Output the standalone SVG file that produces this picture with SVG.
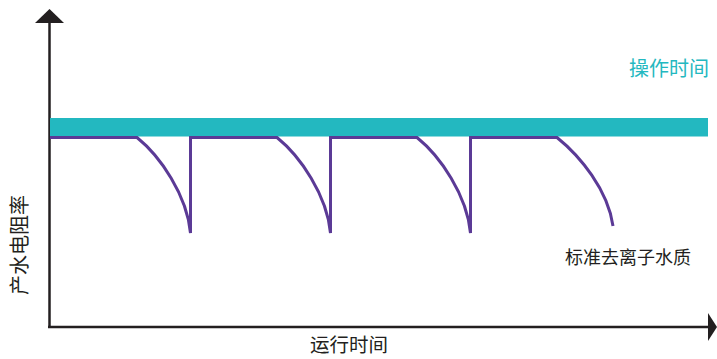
<svg xmlns="http://www.w3.org/2000/svg" width="717" height="359" viewBox="0 0 717 359">
<style>
.ax{stroke:#231f20;stroke-width:2.5;fill:none}
.ah{fill:#231f20}
.cv{stroke:#5b3a96;stroke-width:3;fill:none;stroke-linejoin:miter}
text{font-family:"Noto Sans CJK SC","Noto Sans",sans-serif}
</style>
<rect width="717" height="359" fill="#fff"/>
<g id="axes">
<line class="ax" x1="49.5" y1="20" x2="49.5" y2="327"/>
<polygon class="ah" points="35,23 49.5,9 64,23"/>
<line class="ax" x1="48" y1="327" x2="710" y2="327"/>
<polygon class="ah" points="708,313 717,327 708,341"/>
</g>
<g id="band">
<rect x="50" y="118" width="658" height="18.5" fill="#23b8c0"/>
</g>
<g id="connectors">
<path class="cv" d="M50,137.5 H137 C160,156 187,195 190.5,233 V137.5 H277 C300,156 327,195 330.5,233 V137.5 H417 C440,156 467,195 470.5,233 V137.5 H557 C580,156 608,190 613,226"/>
</g>
<g id="labels">
<text x="669" y="76" font-size="20" fill="#23b8c0" text-anchor="middle">操作时间</text>
<text x="628" y="264" font-size="18" fill="#231f20" text-anchor="middle">标准去离子水质</text>
<text x="349" y="352" font-size="19.5" fill="#231f20" text-anchor="middle">运行时间</text>
<text transform="translate(27,245) rotate(-90)" font-size="20" fill="#231f20" text-anchor="middle">产水电阻率</text>
</g>
</svg>
